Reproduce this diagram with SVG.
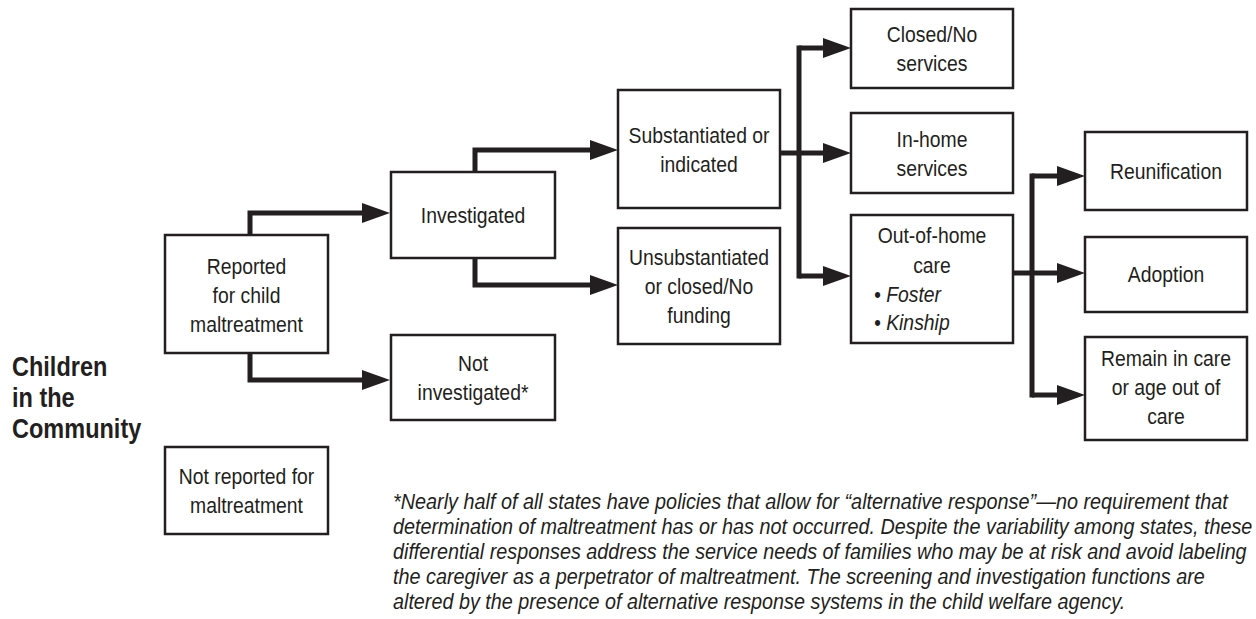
<svg xmlns="http://www.w3.org/2000/svg" width="1256" height="619" viewBox="0 0 1256 619">
<defs>
<style>
.box{fill:#fff;stroke:#231f20;stroke-width:2.5}
.t{font-family:"Liberation Sans",Arial,sans-serif;font-size:22px;fill:#231f20;text-anchor:middle}
.ti{font-family:"Liberation Sans",Arial,sans-serif;font-size:22px;fill:#231f20;font-style:italic}
.title{font-family:"Liberation Sans",Arial,sans-serif;font-size:28px;font-weight:bold;fill:#231f20}
.fn{font-family:"Liberation Sans",Arial,sans-serif;font-size:22px;font-style:italic;fill:#231f20}
.c{fill:none;stroke:#231f20;stroke-width:5;stroke-linejoin:miter;stroke-linecap:butt}
</style>
<marker id="ah" markerUnits="userSpaceOnUse" markerWidth="28" markerHeight="20" refX="0" refY="10" orient="auto" viewBox="0 0 28 20">
<path d="M0,0 L28,10 L0,20 Z" fill="#231f20"/>
</marker>
</defs>
<rect width="1256" height="619" fill="#fff"/>

<g id="connectors">
<path class="c" d="M250,235 V213 H362" marker-end="url(#ah)"/>
<path class="c" d="M250,353 V380 H362" marker-end="url(#ah)"/>
<path class="c" d="M475,172 V150 H590" marker-end="url(#ah)"/>
<path class="c" d="M475,258 V285 H590" marker-end="url(#ah)"/>
<path class="c" d="M799,45.5 V278.5"/>
<path class="c" d="M799,48 H823" marker-end="url(#ah)"/>
<path class="c" d="M780,153 H823" marker-end="url(#ah)"/>
<path class="c" d="M799,276 H823" marker-end="url(#ah)"/>
<path class="c" d="M1032,173.5 V397.5"/>
<path class="c" d="M1032,176 H1057" marker-end="url(#ah)"/>
<path class="c" d="M1013,273 H1057" marker-end="url(#ah)"/>
<path class="c" d="M1032,395 H1057" marker-end="url(#ah)"/>
</g>

<g id="title">
<text class="title" transform="translate(12 376) scale(0.84 1)">Children</text>
<text class="title" transform="translate(12 407) scale(0.84 1)">in the</text>
<text class="title" transform="translate(12 438) scale(0.84 1)">Community</text>
</g>

<g id="reported">
<rect class="box" x="165" y="235" width="163" height="118"/>
<text class="t" transform="translate(246.5 274) scale(0.88 1)">Reported</text>
<text class="t" transform="translate(246.5 303) scale(0.88 1)">for child</text>
<text class="t" transform="translate(246.5 332) scale(0.88 1)">maltreatment</text>
</g>

<g id="not-reported">
<rect class="box" x="165" y="447" width="163" height="87"/>
<text class="t" transform="translate(246.5 484) scale(0.88 1)">Not reported for</text>
<text class="t" transform="translate(246.5 513) scale(0.88 1)">maltreatment</text>
</g>

<g id="investigated">
<rect class="box" x="391" y="172" width="164" height="86"/>
<text class="t" transform="translate(473 223) scale(0.88 1)">Investigated</text>
</g>

<g id="not-investigated">
<rect class="box" x="391" y="335" width="164" height="85"/>
<text class="t" transform="translate(473 371) scale(0.88 1)">Not</text>
<text class="t" transform="translate(473 400) scale(0.88 1)">investigated*</text>
</g>

<g id="substantiated">
<rect class="box" x="618" y="90" width="162" height="118"/>
<text class="t" transform="translate(699 143) scale(0.88 1)">Substantiated or</text>
<text class="t" transform="translate(699 172) scale(0.88 1)">indicated</text>
</g>

<g id="unsubstantiated">
<rect class="box" x="618" y="228" width="162" height="116"/>
<text class="t" transform="translate(699 265) scale(0.88 1)">Unsubstantiated</text>
<text class="t" transform="translate(699 294) scale(0.88 1)">or closed/No</text>
<text class="t" transform="translate(699 323) scale(0.88 1)">funding</text>
</g>

<g id="closed">
<rect class="box" x="851" y="9" width="162" height="79"/>
<text class="t" transform="translate(932 42) scale(0.88 1)">Closed/No</text>
<text class="t" transform="translate(932 71) scale(0.88 1)">services</text>
</g>

<g id="in-home">
<rect class="box" x="851" y="113" width="162" height="80"/>
<text class="t" transform="translate(932 147) scale(0.88 1)">In-home</text>
<text class="t" transform="translate(932 176) scale(0.88 1)">services</text>
</g>

<g id="out-of-home">
<rect class="box" x="851" y="215" width="162" height="128"/>
<text class="t" transform="translate(932 243) scale(0.88 1)">Out-of-home</text>
<text class="t" transform="translate(932 273) scale(0.88 1)">care</text>
<text class="ti" transform="translate(874 302) scale(0.88 1)">• Foster</text>
<text class="ti" transform="translate(874 330) scale(0.88 1)">• Kinship</text>
</g>

<g id="reunification">
<rect class="box" x="1085" y="132" width="162" height="78"/>
<text class="t" transform="translate(1166 179) scale(0.88 1)">Reunification</text>
</g>

<g id="adoption">
<rect class="box" x="1085" y="237" width="162" height="75"/>
<text class="t" transform="translate(1166 282) scale(0.88 1)">Adoption</text>
</g>

<g id="remain">
<rect class="box" x="1085" y="337" width="162" height="103"/>
<text class="t" transform="translate(1166 366) scale(0.88 1)">Remain in care</text>
<text class="t" transform="translate(1166 395) scale(0.88 1)">or age out of</text>
<text class="t" transform="translate(1166 424) scale(0.88 1)">care</text>
</g>

<g id="footnote">
<text class="fn" transform="translate(393 509) scale(0.82 1)" textLength="1018" lengthAdjust="spacingAndGlyphs">*Nearly half of all states have policies that allow for “alternative response”—no requirement that</text>
<text class="fn" transform="translate(393 534) scale(0.82 1)" textLength="1048" lengthAdjust="spacingAndGlyphs">determination of maltreatment has or has not occurred. Despite the variability among states, these</text>
<text class="fn" transform="translate(393 559) scale(0.82 1)" textLength="1041" lengthAdjust="spacingAndGlyphs">differential responses address the service needs of families who may be at risk and avoid labeling</text>
<text class="fn" transform="translate(393 584) scale(0.82 1)" textLength="990" lengthAdjust="spacingAndGlyphs">the caregiver as a perpetrator of maltreatment. The screening and investigation functions are</text>
<text class="fn" transform="translate(393 609) scale(0.82 1)" textLength="893" lengthAdjust="spacingAndGlyphs">altered by the presence of alternative response systems in the child welfare agency.</text>
</g>
</svg>
